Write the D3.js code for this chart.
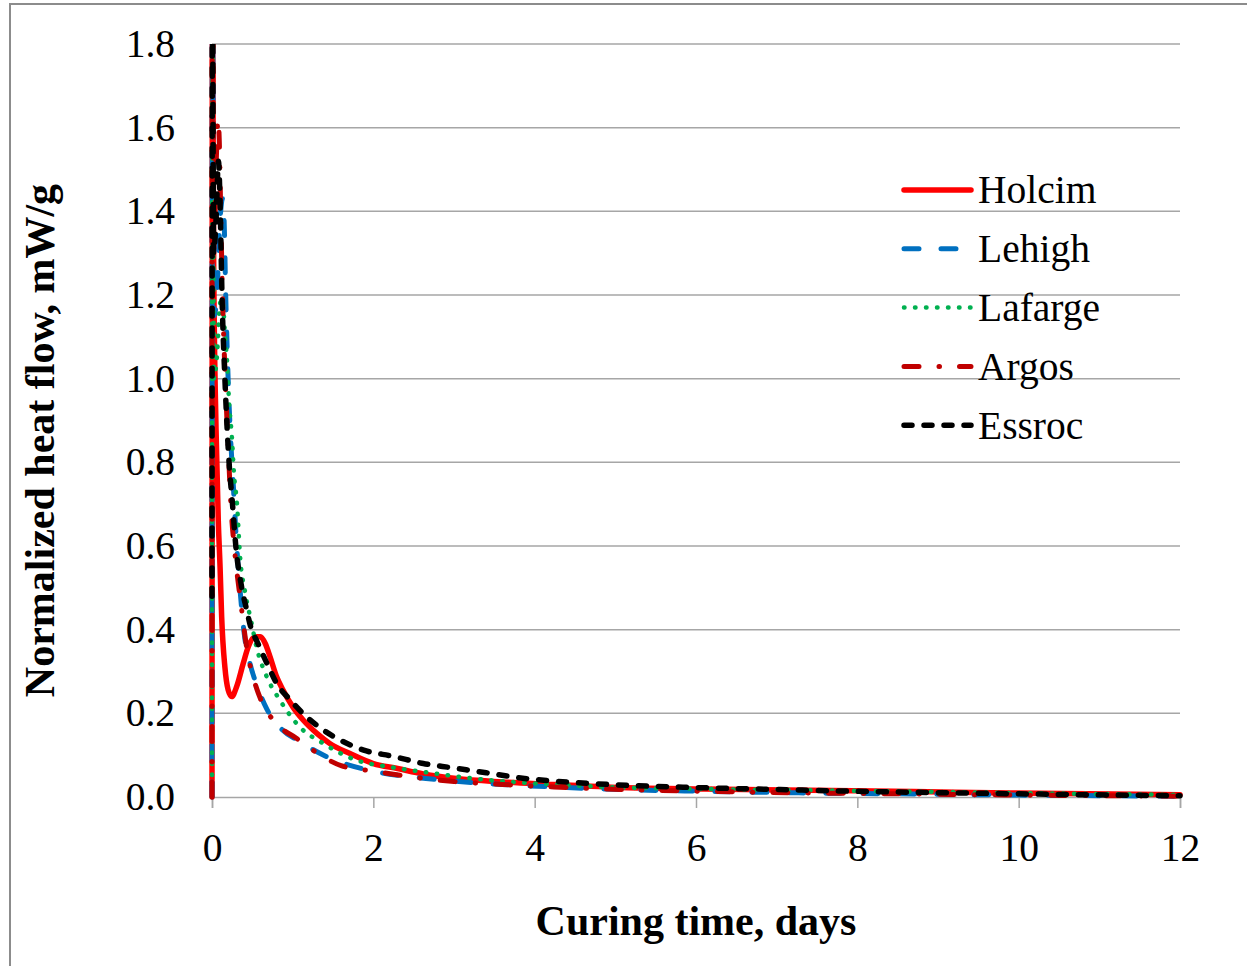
<!DOCTYPE html>
<html>
<head>
<meta charset="utf-8">
<script src="https://cdn.jsdelivr.net/npm/d3@7"></script>
<style>
  html, body { margin: 0; padding: 0; background: #fff; }
  svg { display: block; font-family: "Liberation Serif", "Times New Roman", serif; }
</style>
</head>
<body>
<div id="chart"></div>
<script>
// 数据：[时间(天), 归一化热流(mW/g)]
const holcim = [[0,0],[0.004,2.0],[0.02,1.3],[0.05,0.88],[0.078,0.66],[0.1,0.55],[0.12,0.43],[0.16,0.31],[0.2,0.256],[0.244,0.24],[0.306,0.264],[0.388,0.32],[0.45,0.359],[0.53,0.383],[0.6,0.383],[0.66,0.367],[0.72,0.335],[0.8,0.288],[0.88,0.256],[1.0,0.216],[1.13,0.184],[1.3,0.152],[1.46,0.128],[1.71,0.104],[2.0,0.08],[2.3,0.068],[2.62,0.055],[3.03,0.044],[3.6,0.036],[4.24,0.03],[4.87,0.024],[6.1,0.019],[7.4,0.016],[8.7,0.013],[9.9,0.0097],[12,0.0055]];
const lehigh = [[0,0],[0.004,2.0],[0.025,1.15],[0.06,1.2],[0.1,1.38],[0.13,1.43],[0.15,1.38],[0.17,1.2],[0.2,1.0],[0.23,0.86],[0.26,0.76],[0.3,0.62],[0.35,0.49],[0.4,0.39],[0.47,0.32],[0.55,0.27],[0.68,0.21],[0.85,0.165],[1.09,0.132],[1.46,0.093],[2.04,0.06],[2.62,0.045],[3.0,0.038],[3.6,0.03],[4.24,0.024],[4.87,0.019],[6.1,0.0136],[7.4,0.0097],[8.7,0.0072],[9.9,0.0048],[12,0.002]];
const lafarge = [[0,0],[0.004,2.0],[0.025,1.0],[0.06,1.05],[0.1,1.18],[0.13,1.19],[0.16,1.11],[0.19,1.03],[0.21,0.95],[0.25,0.85],[0.27,0.78],[0.31,0.7],[0.35,0.57],[0.41,0.49],[0.49,0.416],[0.55,0.36],[0.68,0.287],[0.84,0.232],[1.09,0.167],[1.38,0.128],[1.79,0.088],[2.2,0.072],[2.62,0.06],[3.45,0.04],[4.24,0.03],[4.87,0.024],[6.14,0.019],[7.4,0.016],[8.67,0.013],[9.93,0.0097],[12,0.005]];
const argos = [[0,0],[0.004,2.0],[0.025,1.3],[0.05,1.5],[0.075,1.62],[0.09,1.57],[0.11,1.38],[0.13,1.2],[0.16,1.02],[0.2,0.84],[0.24,0.68],[0.28,0.59],[0.36,0.46],[0.44,0.345],[0.52,0.28],[0.6,0.235],[0.8,0.175],[1.05,0.14],[1.25,0.112],[1.6,0.075],[2.0,0.062],[2.4,0.05],[3.0,0.037],[3.6,0.03],[4.24,0.024],[4.87,0.019],[6.1,0.0136],[7.4,0.0097],[8.7,0.0072],[9.9,0.0048],[12,0.002]];
const essroc = [[0,0.48],[0.005,2.0],[0.02,1.3],[0.05,1.38],[0.08,1.52],[0.1,1.42],[0.125,1.19],[0.16,1.0],[0.215,0.79],[0.25,0.71],[0.3,0.59],[0.36,0.51],[0.43,0.447],[0.49,0.4],[0.55,0.375],[0.68,0.32],[0.8,0.272],[0.97,0.232],[1.17,0.192],[1.38,0.16],[1.59,0.136],[1.88,0.112],[2.25,0.097],[2.62,0.08],[2.97,0.07],[3.4,0.058],[3.8,0.046],[4.24,0.038],[5.2,0.0275],[6.1,0.022],[7.0,0.018],[8.0,0.0136],[9.3,0.0096],[10.6,0.006],[12,0.003]];

const seriesNames = ['Holcim', 'Lehigh', 'Lafarge', 'Argos', 'Essroc'];
const seriesData = [holcim, lehigh, lafarge, argos, essroc];
const xTicks = [0, 2, 4, 6, 8, 10, 12];
const yTicks = [0, 0.2, 0.4, 0.6, 0.8, 1.0, 1.2, 1.4, 1.6, 1.8];

// 线型
const styles = [
  { color: '#FF0000', width: 5.5, dash: null },
  { color: '#0070C0', width: 5, dash: '15,22' },
  { color: '#00B050', width: 4.5, dash: '0.5,10.5' },
  { color: '#C00000', width: 5, dash: '15,20,0.5,20' },
  { color: '#000000', width: 5.5, dash: '8,12' },
];

const W = 1247, H = 966;
const plotL = 212, plotR = 1180, plotT = 44, plotB = 797;
const fontSize = 39.5;

const svg = d3.select('#chart').append('svg').attr('width', W).attr('height', H);

// 外框（只露出上边和左边）
svg.append('rect').attr('x', 10).attr('y', 4).attr('width', W + 20).attr('height', H + 20)
  .attr('fill', 'none').attr('stroke', '#8c8c8c').attr('stroke-width', 2);

const x = d3.scaleLinear().domain([0, 12]).range([plotL, plotR]);
const y = d3.scaleLinear().domain([0, 1.8]).range([plotB, plotT]);

// 网格线
svg.append('g').selectAll('line').data(yTicks.slice(1)).enter().append('line')
  .attr('x1', plotL).attr('x2', plotR).attr('y1', (d) => y(d)).attr('y2', (d) => y(d))
  .attr('stroke', '#a6a6a6').attr('stroke-width', 1.5);

// x 轴
const xAxis = svg.append('g').attr('transform', `translate(0,${plotB})`)
  .call(d3.axisBottom(x).tickValues(xTicks).tickSize(11).tickPadding(25).tickFormat(d3.format('d')));
xAxis.select('.domain').attr('stroke', '#a6a6a6').attr('stroke-width', 1.5);
xAxis.selectAll('.tick line').attr('stroke', '#a6a6a6').attr('stroke-width', 1.5);
xAxis.selectAll('text').attr('font-size', fontSize).attr('font-family', '"Liberation Serif", serif').attr('fill', '#000');

// y 轴
const yAxis = svg.append('g').attr('transform', `translate(${plotL},0)`)
  .call(d3.axisLeft(y).tickValues(yTicks).tickSize(0).tickPadding(37).tickFormat(d3.format('.1f')));
yAxis.select('.domain').attr('stroke', '#a6a6a6').attr('stroke-width', 1.5);
yAxis.selectAll('text').attr('font-size', fontSize).attr('font-family', '"Liberation Serif", serif').attr('fill', '#000');

// 轴标题
svg.append('text').attr('x', (plotL + plotR) / 2).attr('y', 935).attr('text-anchor', 'middle')
  .attr('font-size', 42).attr('font-weight', 'bold').text('Curing time, days');
svg.append('text').attr('transform', `translate(54,${(plotT + plotB) / 2 + 20}) rotate(-90)`)
  .attr('text-anchor', 'middle').attr('font-size', 42).attr('font-weight', 'bold')
  .text('Normalized heat flow, mW/g');

// 曲线
svg.append('clipPath').attr('id', 'plot-clip').append('rect')
  .attr('x', plotL - 5).attr('y', plotT).attr('width', plotR - plotL + 10).attr('height', plotB - plotT + 5);
const line = d3.line().x((d) => x(d[0])).y((d) => y(d[1])).curve(d3.curveMonotoneX);
const plot = svg.append('g').attr('clip-path', 'url(#plot-clip)');
seriesData.forEach((data, i) => {
  const s = styles[i];
  plot.append('path').datum(data).attr('d', line)
    .attr('fill', 'none').attr('stroke', s.color).attr('stroke-width', s.width)
    .attr('stroke-linecap', 'round').attr('stroke-linejoin', 'round')
    .attr('stroke-dasharray', s.dash);
});

// 图例
const legend = svg.append('g').attr('transform', 'translate(904,190)');
seriesNames.forEach((name, i) => {
  const s = styles[i];
  const row = legend.append('g').attr('transform', `translate(0,${i * 58.8})`);
  row.append('line').attr('x1', 0).attr('x2', 67).attr('y1', 0).attr('y2', 0)
    .attr('stroke', s.color).attr('stroke-width', s.width)
    .attr('stroke-linecap', 'round').attr('stroke-dasharray', s.dash);
  row.append('text').attr('x', 74).attr('y', 0).attr('dy', '0.34em')
    .attr('font-size', fontSize).attr('fill', '#000').text(name);
});
</script>
</body>
</html>
